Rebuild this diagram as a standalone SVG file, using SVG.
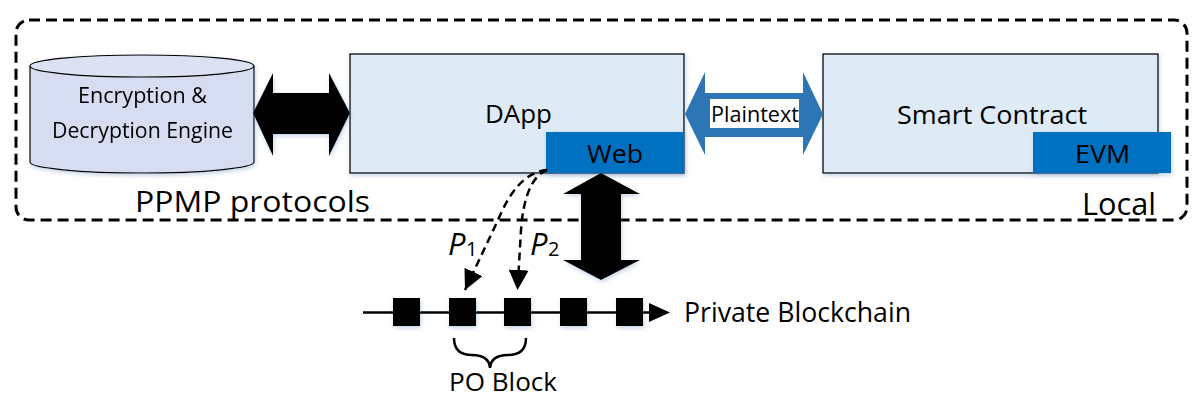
<svg xmlns="http://www.w3.org/2000/svg" width="1199" height="403" viewBox="0 0 1199 403">
<style>
text{font-family:"Open Sans","Liberation Sans",sans-serif;fill:#000}
.box{fill:#DEEAF6;stroke:#000;stroke-width:1.3}
.blue{fill:#0070C0}
.blk{fill:#000}
.dash{fill:none;stroke:#000;stroke-width:2.5;stroke-dasharray:8 5}
</style>
<defs>
<filter id="sh" x="-20%" y="-20%" width="140%" height="140%">
<feDropShadow dx="1" dy="2" stdDeviation="2" flood-color="#5b7fb0" flood-opacity="0.35"/>
</filter>
<marker id="ah" viewBox="0 0 20 20" refX="20" refY="10" markerWidth="20" markerHeight="20" markerUnits="userSpaceOnUse" orient="auto">
<path d="M0,0 L20,10 L0,20 Z" fill="#000"/>
</marker>
</defs>

<g id="local-boundary">
<rect x="16" y="20" width="1171" height="200" rx="13" fill="none" stroke="#000" stroke-width="3" stroke-dasharray="11 6"/>
<text x="135" y="212" font-size="29" textLength="235" lengthAdjust="spacingAndGlyphs">PPMP protocols</text>
<text x="1082" y="215" font-size="31" textLength="74" lengthAdjust="spacingAndGlyphs">Local</text>
</g>

<g id="engine" filter="url(#sh)">
<path d="M30,66 L30,162 A112,11 0 0 0 254,162 L254,66" fill="#D6DDF1" stroke="#000" stroke-width="1.2"/>
<ellipse cx="142" cy="66" rx="112" ry="11" fill="#DCE2F3" stroke="#000" stroke-width="1.2"/>
<text x="78" y="103" font-size="21" textLength="129" lengthAdjust="spacingAndGlyphs">Encryption &amp;</text>
<text x="52" y="138" font-size="21" textLength="181" lengthAdjust="spacingAndGlyphs">Decryption Engine</text>
</g>

<g id="dapp">
<rect class="box" x="350" y="54" width="334" height="119" filter="url(#sh)"/>
<text x="485" y="123" font-size="26" textLength="67" lengthAdjust="spacingAndGlyphs">DApp</text>
</g>
<g id="web">
<rect class="blue" x="546" y="132" width="138" height="41" filter="url(#sh)"/>
<text x="587" y="163" font-size="26" textLength="56" lengthAdjust="spacingAndGlyphs">Web</text>
</g>

<g id="smart-contract">
<rect class="box" x="823" y="54" width="335" height="119" filter="url(#sh)"/>
<text x="897" y="124" font-size="26" textLength="190" lengthAdjust="spacingAndGlyphs">Smart Contract</text>
</g>
<g id="evm">
<rect class="blue" x="1033" y="132" width="138" height="41" filter="url(#sh)"/>
<text x="1075" y="163" font-size="26" textLength="55" lengthAdjust="spacingAndGlyphs">EVM</text>
</g>

<g id="blockchain">
<line x1="363" y1="312.5" x2="652" y2="312.5" stroke="#000" stroke-width="2.5"/>
<path d="M649,303 L670,312.5 L649,322 Z" class="blk"/>
<g filter="url(#sh)">
<rect class="blk" x="393" y="298" width="27" height="28"/>
<rect class="blk" x="449" y="298" width="27" height="28"/>
<rect class="blk" x="504" y="298" width="27" height="28"/>
<rect class="blk" x="560" y="298" width="27" height="28"/>
<rect class="blk" x="616" y="298" width="27" height="28"/>
</g>
<text x="684" y="322" font-size="27" textLength="227" lengthAdjust="spacingAndGlyphs">Private Blockchain</text>
</g>

<g id="po-block">
<path d="M454,338 Q454,355 472,355 Q489,355 490,368 Q491,355 508,355 Q526,355 526,338" fill="none" stroke="#000" stroke-width="2.5"/>
<text x="449" y="391" font-size="25" textLength="108" lengthAdjust="spacingAndGlyphs">PO Block</text>
</g>

<g id="connectors">
<path class="blk" filter="url(#sh)" d="M253,113 L273,73 L273,93 L329,93 L329,73 L350,113 L329,156 L329,134 L273,134 L273,156 Z"/>
<path fill="#2E75B6" d="M685,114 L705,72 L705,93 L803,93 L803,72 L823,114 L803,155 L803,137 L705,137 L705,155 Z"/>
<rect x="710" y="99" width="89" height="29" fill="#fff"/>
<text x="711" y="122" font-size="22" textLength="88" lengthAdjust="spacingAndGlyphs">Plaintext</text>
<path class="blk" filter="url(#sh)" d="M601,173 L640,194 L621,194 L621,260 L640,260 L601,280 L563,260 L581,260 L581,194 L563,194 Z"/>
<path class="dash" d="M547,170 C523,172 508,196 498,220 L465,290" marker-end="url(#ah)"/>
<path class="dash" d="M547,170 C531,176 523,200 521,230 L517.5,290" marker-end="url(#ah)"/>
<text x="448" y="255" font-size="31" font-style="italic">P</text>
<text x="466" y="256" font-size="20">1</text>
<text x="530" y="255" font-size="31" font-style="italic">P</text>
<text x="548" y="256" font-size="20">2</text>
</g>
</svg>
